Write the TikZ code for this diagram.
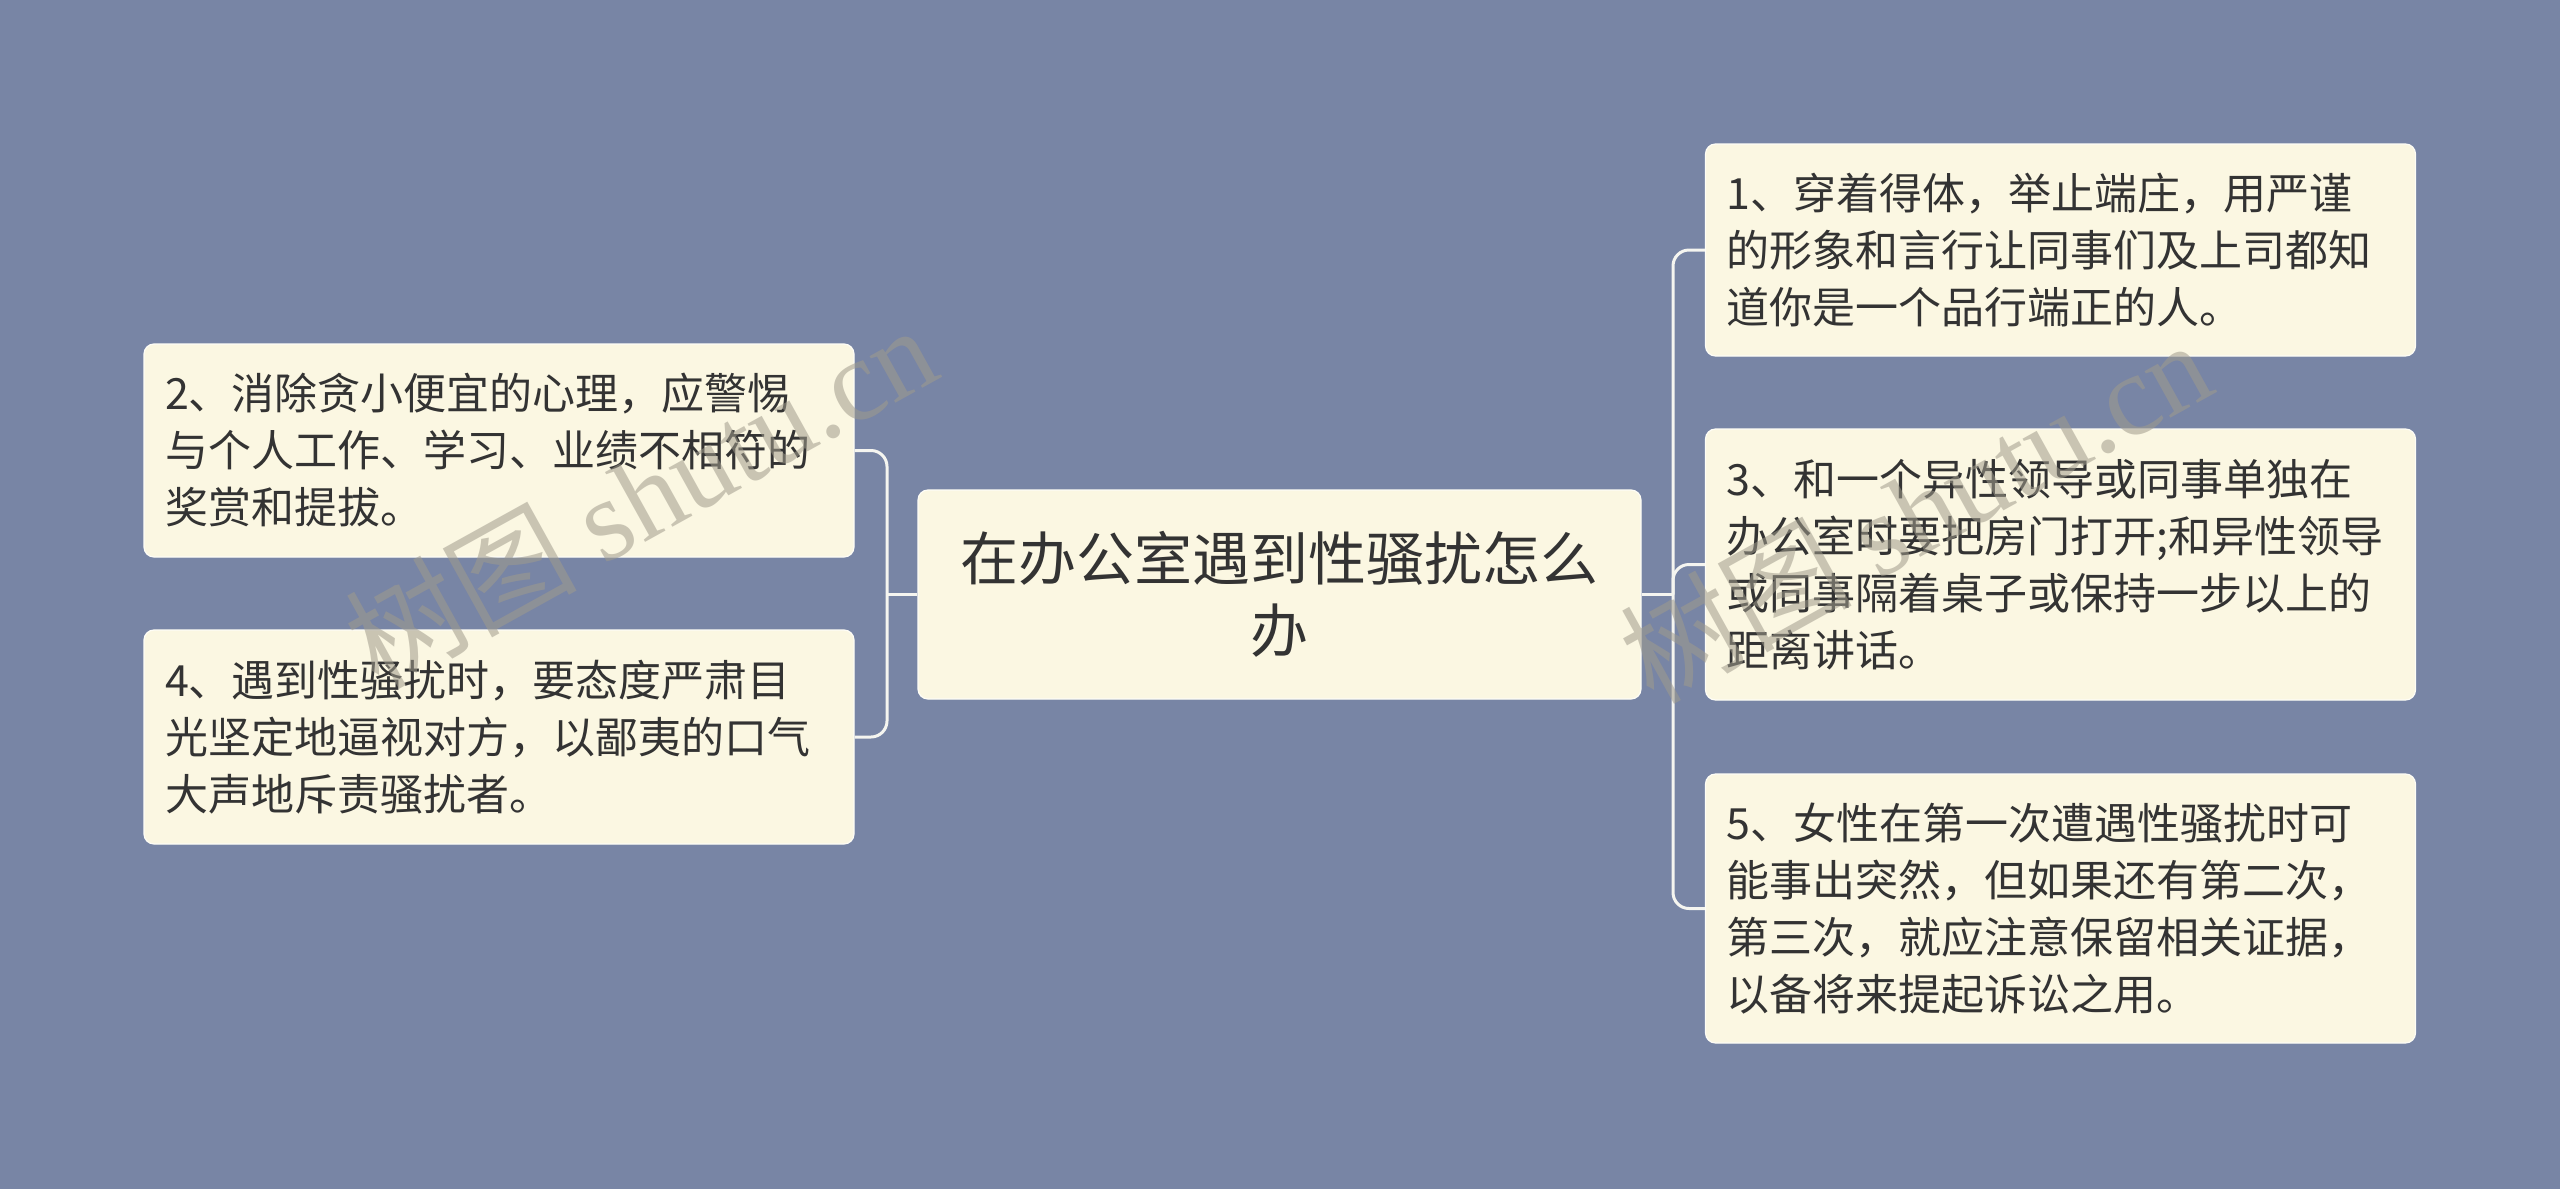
\documentclass[tikz,border=0pt]{standalone}
\usepackage{fontspec}
\setmainfont{Noto Sans CJK SC}
\newfontfamily\wmserif{Liberation Serif}
\definecolor{bg}{RGB}{120,133,165}
\definecolor{nodefill}{RGB}{251,247,226}
\definecolor{txt}{RGB}{51,51,51}
\definecolor{wm}{RGB}{160,155,140}
\definecolor{connc}{RGB}{245,245,240}
\begin{document}
\begin{tikzpicture}[x=0.5pt,y=-0.5pt,
  leaf/.style={rectangle, rounded corners=5pt, fill=nodefill, draw=white!70!nodefill, line width=0.6pt,
    text=txt, align=left, inner xsep=10.5pt, inner ysep=0pt, text width=334pt,
    font=\fontsize{21.5pt}{28.5pt}\selectfont, anchor=center},
  titlebox/.style={rectangle, rounded corners=5pt, fill=nodefill, draw=white!70!nodefill, line width=0.6pt,
    text=txt, align=center, inner xsep=10pt, inner ysep=0pt, text width=341.5pt, minimum height=104.5pt,
    font=\fontsize{29pt}{36pt}\selectfont, anchor=center},
  conn/.style={draw=connc, line width=1.5pt},
  wmark/.style={text=wm, opacity=0.55, font=\fontsize{58pt}{60pt}\selectfont, inner sep=0pt}
]
\fill[bg] (0,0) rectangle (2560,1189);
\useasboundingbox (0,0) rectangle (2560,1189);

\coordinate (lx) at (887,594.5);
\coordinate (rx) at (1673,594.5);

\node[titlebox] (c) at (1279.5,594.5) {在办公室遇到性骚扰怎么\\办};

\node[leaf, minimum height=106.5pt] (n2) at (499,450.5) {2、消除贪小便宜的心理，应警惕\\与个人工作、学习、业绩不相符的\\奖赏和提拔。};
\node[leaf, minimum height=107pt] (n4) at (499,737) {4、遇到性骚扰时，要态度严肃目\\光坚定地逼视对方，以鄙夷的口气\\大声地斥责骚扰者。};

\node[leaf, minimum height=106pt] (n1) at (2060.5,250) {1、穿着得体，举止端庄，用严谨\\的形象和言行让同事们及上司都知\\道你是一个品行端正的人。};
\node[leaf, minimum height=135.5pt] (n3) at (2060.5,564.5) {3、和一个异性领导或同事单独在\\办公室时要把房门打开;和异性领导\\或同事隔着桌子或保持一步以上的\\距离讲话。};
\node[leaf, minimum height=134.5pt] (n5) at (2060.5,908.5) {5、女性在第一次遭遇性骚扰时可\\能事出突然，但如果还有第二次，\\第三次，就应注意保留相关证据，\\以备将来提起诉讼之用。};

\draw[conn] (c.west) -- (lx);
\draw[conn, rounded corners=8pt] (n2.east) -| (lx) |- (n4.east);
\draw[conn] (c.east) -- (rx);
\draw[conn, rounded corners=8pt] (n1.west) -| (rx) |- (n5.west);
\draw[conn, rounded corners=8pt] (rx) |- (n3.west);

\node[wmark, rotate=29] (w1) at (640,495) {树图 {\wmserif shutu.cn}};
\node[wmark, rotate=29] (w2) at (1915,510) {树图 {\wmserif shutu.cn}};
\end{tikzpicture}
\end{document}
